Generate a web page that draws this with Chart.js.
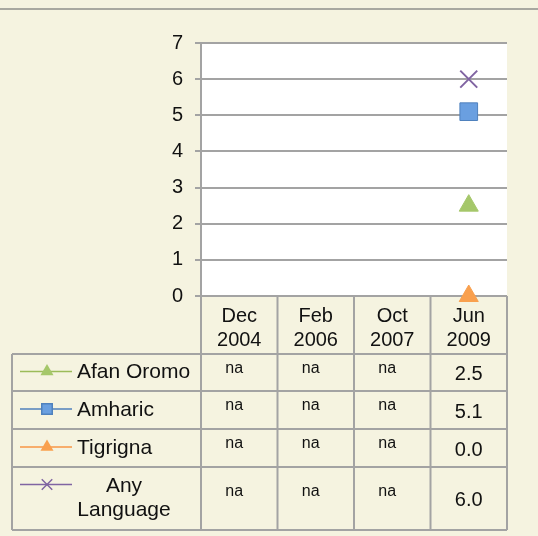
<!DOCTYPE html>
<html>
<head>
<meta charset="utf-8">
<script src="https://cdn.jsdelivr.net/npm/chart.js@4"></script>
<style>
  html, body { margin: 0; padding: 0; background: #f5f3e0; }
  canvas { display: block; }
</style>
</head>
<body>
<canvas id="lineChart" width="538" height="536"></canvas>
<script>
// 数据
const categories = [['Dec', '2004'], ['Feb', '2006'], ['Oct', '2007'], ['Jun', '2009']];
const seriesNames = ['Afan Oromo', 'Amharic', 'Tigrigna', 'Any Language'];
const afanOromo = [null, null, null, 2.5];
const amharic = [null, null, null, 5.1];
const tigrigna = [null, null, null, 0.0];
const anyLanguage = [null, null, null, 6.0];
const yMin = 0, yMax = 7, yStep = 1;

const colors = ['#9bbb59', '#4f81bd', '#f79646', '#8064a2'];
const fills = ['#a5c76a', '#6a9fe0', '#f9a04e', '#8064a2'];
const styles = ['triangle', 'rect', 'triangle', 'crossRot'];
const radii = [11, 12.5, 11, 12];

const lineColor = '#a3a3a3';
const font = '"Liberation Sans", Arial, sans-serif';

const drawMarker = (ctx, style, x, y, r, fill, stroke) => {
    ctx.save();
    ctx.fillStyle = fill;
    ctx.strokeStyle = stroke;
    ctx.lineWidth = 1.5;
    ctx.beginPath();
    if (style === 'triangle') {
        ctx.moveTo(x, y - r);
        ctx.lineTo(x + r * 0.87, y + r * 0.5);
        ctx.lineTo(x - r * 0.87, y + r * 0.5);
        ctx.closePath();
        ctx.fill();
    } else if (style === 'rect') {
        ctx.rect(x - r * 0.7, y - r * 0.7, r * 1.4, r * 1.4);
        ctx.fill();
        ctx.stroke();
    } else {
        const d = r * 0.7;
        ctx.moveTo(x - d, y - d); ctx.lineTo(x + d, y + d);
        ctx.moveTo(x + d, y - d); ctx.lineTo(x - d, y + d);
        ctx.stroke();
    }
    ctx.restore();
};

// 背景 + 数据表
const tablePlugin = {
    id: 'dataTable',
    beforeDraw(chart) {
        const {ctx, chartArea} = chart;
        ctx.save();
        ctx.fillStyle = '#f5f3e0';
        ctx.fillRect(0, 0, chart.width, chart.height);
        ctx.strokeStyle = '#a8a8a0';
        ctx.lineWidth = 2;
        ctx.beginPath();
        ctx.moveTo(0, 9); ctx.lineTo(chart.width, 9);
        ctx.stroke();
        ctx.fillStyle = '#ffffff';
        ctx.fillRect(chartArea.left, chartArea.top, chartArea.right - chartArea.left, chartArea.bottom - chartArea.top);
        ctx.restore();
    },
    beforeDatasetsDraw(chart) {
        const {ctx, chartArea} = chart;
        const xs = chart.scales.x;
        const colW = (chartArea.right - chartArea.left) / categories.length;
        const rowY = [354, 391, 429, 467, 530];
        const legendLeft = 12;
        ctx.save();
        ctx.strokeStyle = lineColor;
        ctx.lineWidth = 2;
        ctx.beginPath();
        for (let i = 0; i <= categories.length; i++) {
            const x = chartArea.left + i * colW;
            ctx.moveTo(x, chartArea.bottom); ctx.lineTo(x, rowY[rowY.length - 1]);
        }
        ctx.moveTo(legendLeft, rowY[0]); ctx.lineTo(legendLeft, rowY[rowY.length - 1]);
        rowY.forEach(y => { ctx.moveTo(legendLeft, y); ctx.lineTo(chartArea.right, y); });
        ctx.stroke();

        ctx.fillStyle = '#111';
        ctx.textBaseline = 'middle';
        chart.data.datasets.forEach((ds, r) => {
            const cy = (rowY[r] + rowY[r + 1]) / 2;
            const multi = Array.isArray(ds.rowLabel);
            const ly = multi ? cy - 14 : cy - 1;
            // 图例样本
            ctx.strokeStyle = colors[r];
            ctx.lineWidth = 1.5;
            ctx.beginPath();
            ctx.moveTo(20, ly); ctx.lineTo(72, ly);
            ctx.stroke();
            drawMarker(ctx, styles[r], 47, ly, 7.5, fills[r], colors[r]);
            ctx.fillStyle = '#111';
            ctx.font = '21px ' + font;
            if (multi) {
                ctx.textAlign = 'center';
                ctx.fillText(ds.rowLabel[0], 124, cy - 12);
                ctx.fillText(ds.rowLabel[1], 124, cy + 12);
            } else {
                ctx.textAlign = 'left';
                ctx.fillText(ds.rowLabel, 77, cy);
            }
            // 单元格
            ds.data.forEach((v, i) => {
                const x = xs.getPixelForValue(i);
                ctx.textAlign = 'center';
                if (v === null) {
                    ctx.font = '16px ' + font;
                    ctx.fillText('na', x - 5, cy - (multi ? 7 : 4));
                } else {
                    ctx.font = '20px ' + font;
                    ctx.fillText(v.toFixed(1), x, cy + 2);
                }
            });
        });
        ctx.restore();
    }
};

const seriesData = [afanOromo, amharic, tigrigna, anyLanguage];
const datasets = seriesData.map((d, i) => ({
    label: seriesNames[i],
    rowLabel: seriesNames[i] === 'Any Language' ? ['Any', 'Language'] : seriesNames[i],
    data: d,
    borderColor: colors[i],
    backgroundColor: fills[i],
    pointStyle: styles[i],
    pointRadius: radii[i],
    pointBorderColor: styles[i] === 'triangle' ? fills[i] : colors[i],
    pointBorderWidth: styles[i] === 'crossRot' ? 2 : 1,
    borderWidth: 2,
    clip: false
}));

new Chart(document.getElementById('lineChart').getContext('2d'), {
    type: 'line',
    data: {labels: categories, datasets: datasets},
    options: {
        responsive: false,
        animation: false,
        devicePixelRatio: 1,
        layout: {padding: {top: 43, right: 31, left: 0, bottom: 0}},
        plugins: {legend: {display: false}, tooltip: {enabled: false}},
        scales: {
            x: {
                offset: true,
                grid: {display: false},
                border: {display: false},
                ticks: {color: '#111', font: {family: font, size: 20, lineHeight: 1.2}, padding: 0, maxRotation: 0},
                afterFit: (scale) => { scale.height = 240; }
            },
            y: {
                min: yMin,
                max: yMax,
                ticks: {stepSize: yStep, color: '#111', font: {family: font, size: 20}, padding: 12},
                grid: {color: lineColor, lineWidth: 2, tickLength: 6},
                border: {color: lineColor, width: 2},
                afterFit: (scale) => { scale.width = 201; }
            }
        }
    },
    plugins: [tablePlugin]
});
</script>
</body>
</html>
